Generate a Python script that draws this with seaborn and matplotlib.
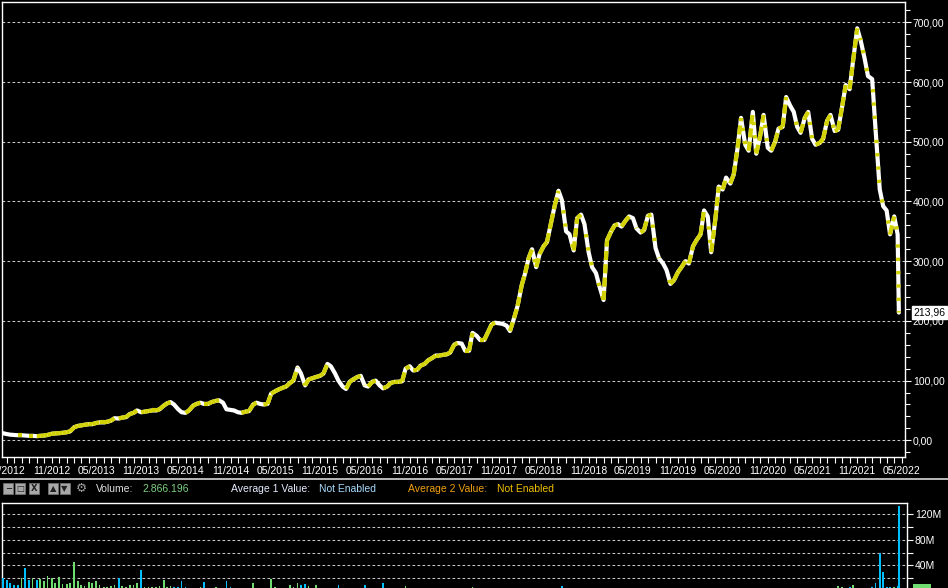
import numpy as np
import pandas as pd
import matplotlib
matplotlib.use("Agg")
import matplotlib.pyplot as plt
import matplotlib.dates as mdates
import seaborn as sns
from matplotlib.collections import LineCollection
from matplotlib.patches import Rectangle
from matplotlib.lines import Line2D
from matplotlib.ticker import MultipleLocator, FuncFormatter

# closing prices, sampled on the 1st and the 15th of each month
price_2012 = [15.5, 14.5, 12, 10.5, 9.5, 9, 8.5, 8.5, 8, 7.5, 7.5, 7, 7.5, 8, 9, 11, 11.5, 12, 12.5]  # from 15 Mar
price_2013 = [13.5, 15, 22, 24, 25, 26, 27, 27, 29, 30, 30, 31, 33, 37, 36.5, 38, 39, 44, 46, 50, 47, 48, 49, 50]
price_2014 = [50, 52, 58, 62, 64, 60, 52, 47, 46, 50, 58, 61, 63, 61, 61, 64, 66, 67, 63, 52, 51, 50, 47, 46]
price_2015 = [48, 49, 60, 63, 61, 60, 61, 78, 82, 85, 88, 90, 96, 100, 122, 112, 92, 102, 104, 106, 108, 112, 128, 124]
price_2016 = [112, 100, 90, 86, 98, 102, 106, 108, 92, 90, 98, 100, 92, 87, 90, 96, 98, 98, 99, 120, 124, 117, 118, 125]
price_2017 = [128, 134, 138, 142, 142, 143, 144, 147, 160, 163, 162, 150, 150, 180, 175, 168, 168, 180, 194, 197, 196, 195, 192, 183]
price_2018 = [205, 225, 260, 280, 305, 320, 290, 312, 325, 332, 365, 392, 418, 402, 350, 345, 318, 372, 378, 362, 315, 290, 280, 258]
price_2019 = [235, 335, 350, 360, 362, 358, 368, 375, 372, 355, 348, 352, 376, 378, 322, 305, 296, 285, 262, 268, 282, 290, 300, 296]
price_2020 = [325, 335, 345, 385, 375, 315, 370, 425, 420, 440, 430, 445, 490, 540, 495, 485, 550, 480, 510, 545, 490, 485, 500, 522]
price_2021 = [525, 575, 560, 550, 525, 515, 540, 550, 505, 495, 498, 505, 535, 545, 518, 520, 560, 595, 588, 635, 690, 670, 640, 610]
price_2022 = [605, 520, 420, 392, 385, 345, 375, 345]  # to 15 Apr
last_date = "2022-04-20"
last_price = 213.96

# volume in millions, same dates
vol_2012 = [14, 15, 20, 18, 12, 10, 9, 20, 36, 18, 20, 17, 19, 16, 24, 20, 12, 22, 11]
vol_2013 = [11, 13, 46, 15, 10, 8, 14, 12, 16, 9, 7, 6, 8, 10, 20, 8, 7, 10, 10, 12, 33, 7, 6, 6]
vol_2014 = [6, 8, 17, 6, 8, 7, 6, 15, 6, 5, 5, 5, 6, 14, 5, 5, 6, 5, 5, 16, 6, 4, 4, 4]
vol_2015 = [4, 5, 12, 4, 4, 4, 4, 19, 6, 4, 4, 5, 9, 6, 12, 10, 11, 8, 5, 9, 4, 4, 5, 4]
vol_2016 = [5, 9, 4, 4, 4, 4, 4, 5, 9, 4, 4, 4, 4, 12, 4, 4, 4, 4, 4, 8, 4, 4, 4, 4]
vol_2017 = [4, 5, 4, 4, 4, 4, 4, 4, 4, 4, 4, 4, 4, 7, 4, 4, 4, 4, 4, 4, 4, 4, 4, 4]
vol_2018 = [4, 5, 4, 4, 4, 4, 4, 4, 4, 4, 4, 4, 4, 8, 4, 4, 4, 4, 4, 4, 4, 4, 4, 4]
vol_2019 = [4, 4, 3, 3, 3, 3, 3, 4, 3, 3, 3, 3, 3, 4, 4, 3, 3, 3, 3, 4, 3, 3, 3, 3]
vol_2020 = [3, 4, 3, 3, 4, 4, 3, 4, 3, 3, 3, 3, 3, 4, 3, 3, 3, 3, 3, 4, 3, 3, 3, 3]
vol_2021 = [4, 5, 3, 3, 3, 3, 3, 4, 3, 3, 3, 3, 3, 4, 3, 8, 7, 4, 6, 10, 4, 3, 3, 3]
vol_2022 = [6, 12, 59, 30, 7, 6, 6, 8]
last_vol = 133

vol_text = "2.866.196"

# ---- assemble series
price = np.array(price_2012 + price_2013 + price_2014 + price_2015 + price_2016 + price_2017
                 + price_2018 + price_2019 + price_2020 + price_2021 + price_2022 + [last_price], float)
vol = np.array(vol_2012 + vol_2013 + vol_2014 + vol_2015 + vol_2016 + vol_2017
               + vol_2018 + vol_2019 + vol_2020 + vol_2021 + vol_2022 + [last_vol], float)
dates = pd.date_range("2012-03-15", "2022-04-15", freq="SMS").append(pd.DatetimeIndex([last_date]))
assert len(dates) == len(price) == len(vol)

up = np.r_[True, np.diff(price) >= 0]

# ---- style
sns.set_theme(style="dark", rc={"axes.facecolor": "black", "figure.facecolor": "black",
                                "axes.edgecolor": "white", "text.color": "white"})
plt.rcParams["font.family"] = ["Liberation Sans", "DejaVu Sans"]

W, H = 948, 588
fig = plt.figure(figsize=(W / 100, H / 100), dpi=100, facecolor="black")


def frac(x0, y0, x1, y1):
    return [x0 / W, 1 - y1 / H, (x1 - x0) / W, (y1 - y0) / H]


ax = fig.add_axes(frac(1.5, 1.5, 904.5, 456.5))
axv = fig.add_axes(frac(2, 502.7, 906.5, 591.1))
grid_style = dict(color="#c8c8c8", linestyle=(0, (2.6, 2.2)), linewidth=0.75)
YELLOW = "#d2d200"

# ---- price panel: white line, yellow for rising stretches (flecked both ways)
sns.lineplot(x=dates, y=price, ax=ax, color="white", lw=3.0, zorder=3)
xn = mdates.date2num(dates)
pts = np.column_stack([xn, price])
segs = np.stack([pts[:-1], pts[1:]], axis=1)
rise = up[1:]
ax.add_collection(LineCollection(segs[rise], colors=YELLOW, linewidths=3.0,
                                 linestyles=[(0, (2.2, 1.0))], capstyle="butt", zorder=4))
ax.add_collection(LineCollection(segs[~rise], colors=YELLOW, linewidths=3.0,
                                 linestyles=[(0.8, (0.8, 2.4))], capstyle="butt", zorder=4))

ax.set_xlim(pd.Timestamp("2012-04-10"), pd.Timestamp("2022-05-13"))
ax.set_ylim(-27.1, 734.9)
ax.set_xlabel("")
ax.set_ylabel("")
ax.grid(False)
ax.yaxis.grid(True, which="major", **grid_style)
ax.set_axisbelow(True)

ax.yaxis.tick_right()
ax.yaxis.set_major_locator(MultipleLocator(100))
ax.yaxis.set_minor_locator(MultipleLocator(20))
ax.yaxis.set_major_formatter(FuncFormatter(lambda v, p: f"{v:.2f}".replace(".", ",")))
ax.tick_params(axis="y", which="both", right=True, left=False, labelright=True, labelleft=False,
               colors="white", direction="out", width=0.8, pad=1.5, labelsize=7.5)
ax.tick_params(axis="y", which="major", length=4.5)
ax.tick_params(axis="y", which="minor", length=3.5)

ax.xaxis.set_major_locator(mdates.MonthLocator(bymonth=(5, 11)))
ax.xaxis.set_major_formatter(mdates.DateFormatter("%m/%Y"))
ax.xaxis.set_minor_locator(mdates.MonthLocator())
ax.tick_params(axis="x", which="both", bottom=True, colors="white", direction="out",
               length=4.2, width=0.8, pad=2.5, labelsize=7.5)

for s in ax.spines.values():
    s.set_color("white")
    s.set_linewidth(1)

ax.annotate(f"{last_price:.2f}".replace(".", ","), xy=(1, last_price),
            xycoords=("axes fraction", "data"), xytext=(6.3, 0), textcoords="offset points",
            ha="left", va="center", fontsize=7.5, color="black", annotation_clip=False,
            bbox=dict(boxstyle="square,pad=0.12", fc="white", ec="white"))

# ---- volume panel
bar_colors = np.where(up, "#6edc6e", "#00bfff")
axv.bar(dates, vol, width=7, color=bar_colors, align="center", linewidth=0,
        antialiased=False, zorder=3)
axv.set_xlim(pd.Timestamp("2012-04-12"), pd.Timestamp("2022-05-21"))
axv.set_ylim(0, 137.6)
axv.grid(False)
axv.yaxis.grid(True, which="major", **grid_style)
axv.set_axisbelow(True)
axv.yaxis.tick_right()
axv.yaxis.set_major_locator(MultipleLocator(20))
axv.yaxis.set_major_formatter(FuncFormatter(lambda v, p: f"{int(v)}M" if v > 0 and v % 40 == 0 else ""))
axv.tick_params(axis="y", which="major", right=True, left=False, labelright=True, labelleft=False,
                colors="white", direction="out", length=4.5, width=0.8, pad=1.5, labelsize=7.5)
axv.tick_params(axis="x", which="both", bottom=False, labelbottom=False)
for s in axv.spines.values():
    s.set_color("white")
    s.set_linewidth(1)
axv.spines["bottom"].set_visible(False)

# green marker of the current volume, cut by the bottom edge as in the original
fig.add_artist(Rectangle((913 / W, 1 - 596 / H), 18 / W, 12 / H, transform=fig.transFigure,
                         fc="#6edc6e", ec="#6edc6e", lw=0))

# ---- separator and header row
fig.add_artist(Line2D([0, 1], [1 - 479.3 / H] * 2, transform=fig.transFigure, color="#d8d8d8", lw=1.2))

yc = 1 - 488.5 / H
for x0, x1, glyph in [(3.3, 13.3, "−"), (15, 25, "□"), (29, 38.5, "X"), (48.3, 58.3, "▲"), (59.7, 69.7, "▼")]:
    fig.add_artist(Rectangle((x0 / W, 1 - 493.5 / H), (x1 - x0) / W, 10.5 / H, transform=fig.transFigure,
                             fc="#a8a8a8", ec="#707070", lw=0.6))
    fig.text((x0 + x1) / 2 / W, yc, glyph, ha="center", va="center", fontsize=6, color="#202020",
             family=["DejaVu Sans"], fontweight="bold")
fig.text(81 / W, yc, "⚙", ha="center", va="center", fontsize=9, color="#a0a0a0", family=["DejaVu Sans"])

header = [(96.3, "Volume:", "#e0e0e0"), (142.3, vol_text, "#7fd07f"),
          (231.3, "Average 1 Value:", "#e6ecff"), (319.3, "Not Enabled", "#a8dcff"),
          (408.3, "Average 2 Value:", "#f0a010"), (496.7, "Not Enabled", "#f0c000")]
for x, txt, col in header:
    fig.text(x / W, yc, txt, ha="left", va="center", fontsize=7.5, color=col)

fig.savefig("out.png", dpi=100, facecolor="black")
